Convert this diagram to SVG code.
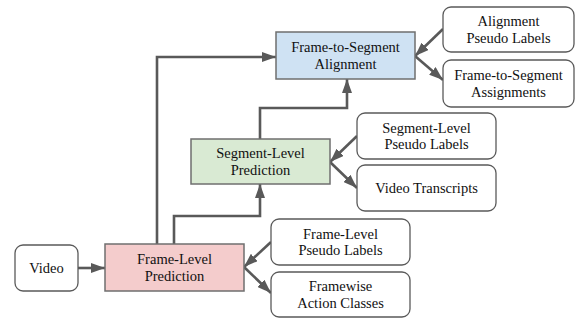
<svg xmlns="http://www.w3.org/2000/svg" width="578" height="320" viewBox="0 0 578 320">
<defs>
<style>
.box{stroke:#6f6f6f;stroke-width:1.5}
.rnd{fill:#fff;stroke:#5a5a5a;stroke-width:1.3}
.t{font-family:'Liberation Serif','DejaVu Serif',serif;font-size:14.5px;fill:#111;text-anchor:middle}
.c{fill:none;stroke:#595959;stroke-width:2.6;marker-end:url(#ah)}
</style>
<marker id="ah" markerUnits="userSpaceOnUse" viewBox="0 0 14 10" refX="14" refY="5" markerWidth="14" markerHeight="10" orient="auto">
<path d="M0,0 L14,5 L0,10 z" fill="#595959"/>
</marker>
</defs>
<rect width="578" height="320" fill="#fff"/>
<g id="connectors">
<path class="c" d="M78,268 H105"/>
<path class="c" d="M157,244 V57 H276"/>
<path class="c" d="M174,244 V216 H260 V184"/>
<path class="c" d="M260,139 V108 H347 V79"/>
<path class="c" d="M271,242 L244,267"/>
<path class="c" d="M244,267 L271,293"/>
<path class="c" d="M357,136 L330,162"/>
<path class="c" d="M330,162 L357,188"/>
<path class="c" d="M443,29 L415,56"/>
<path class="c" d="M415,56 L443,80"/>
</g>
<g font-family="Liberation Serif, DejaVu Serif, serif">
<g id="video">
<rect class="rnd" x="15" y="245" width="63" height="46" rx="8"/>
<text class="t" x="46.5" y="273">Video</text>
</g>
<g id="frame-level-prediction">
<rect class="box" x="105" y="244" width="139" height="47" fill="#f4cccc"/>
<text class="t" x="174.5" y="264">Frame-Level</text>
<text class="t" x="174.5" y="280.5">Prediction</text>
</g>
<g id="segment-level-prediction">
<rect class="box" x="191" y="139" width="139" height="45" fill="#d9ead3"/>
<text class="t" x="260.5" y="158">Segment-Level</text>
<text class="t" x="260.5" y="174.5">Prediction</text>
</g>
<g id="frame-to-segment-alignment">
<rect class="box" x="276" y="32" width="139" height="47" fill="#cfe2f3"/>
<text class="t" x="345.5" y="52">Frame-to-Segment</text>
<text class="t" x="345.5" y="68.5">Alignment</text>
</g>
<g id="alignment-pseudo-labels">
<rect class="rnd" x="443" y="7" width="131" height="45" rx="8"/>
<text class="t" x="508.5" y="26">Alignment</text>
<text class="t" x="508.5" y="42.5">Pseudo Labels</text>
</g>
<g id="frame-to-segment-assignments">
<rect class="rnd" x="443" y="60" width="131" height="47" rx="8"/>
<text class="t" x="508.5" y="80">Frame-to-Segment</text>
<text class="t" x="508.5" y="96.5">Assignments</text>
</g>
<g id="segment-level-pseudo-labels">
<rect class="rnd" x="357" y="113" width="139" height="46" rx="8"/>
<text class="t" x="426.5" y="132.5">Segment-Level</text>
<text class="t" x="426.5" y="149">Pseudo Labels</text>
</g>
<g id="video-transcripts">
<rect class="rnd" x="357" y="165" width="139" height="46" rx="8"/>
<text class="t" x="426.5" y="193">Video Transcripts</text>
</g>
<g id="frame-level-pseudo-labels">
<rect class="rnd" x="271" y="219" width="139" height="46" rx="8"/>
<text class="t" x="340.5" y="238.5">Frame-Level</text>
<text class="t" x="340.5" y="255">Pseudo Labels</text>
</g>
<g id="framewise-action-classes">
<rect class="rnd" x="271" y="272" width="139" height="45" rx="8"/>
<text class="t" x="340.5" y="291">Framewise</text>
<text class="t" x="340.5" y="307.5">Action Classes</text>
</g>
</g>
</svg>
